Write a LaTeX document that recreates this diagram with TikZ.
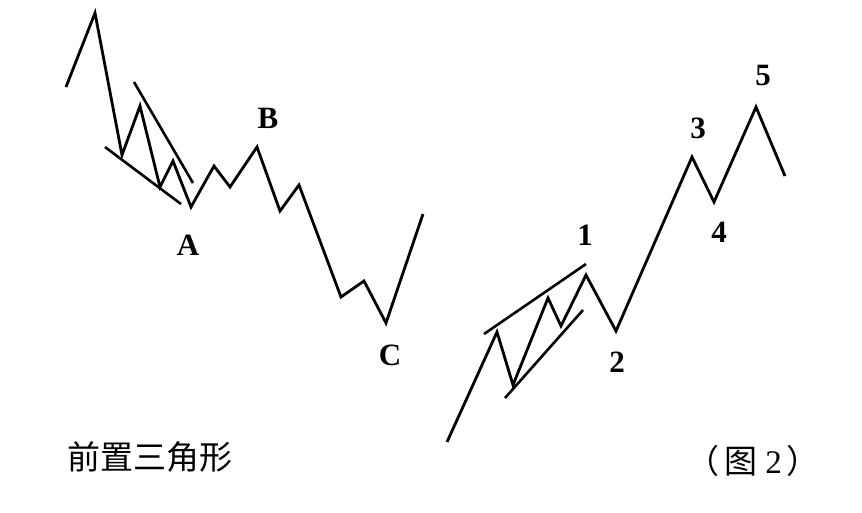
\documentclass[tikz,border=0pt]{standalone}
\usepackage{fontspec}
\setmainfont{Liberation Serif}
\newfontfamily\cjk{Noto Sans CJK SC}
\tikzset{
    wave/.style={line width=2.8pt, line join=miter, line cap=butt},
    edge/.style={line width=2.6pt},
    ptlabel/.style={font=\bfseries\fontsize{31}{31}\selectfont, inner sep=0pt},
    caption/.style={font=\cjk\fontsize{33}{33}\selectfont, inner sep=0pt}
}
\begin{document}
\begin{tikzpicture}[x=1pt,y=-1pt]
    \useasboundingbox (0,0) rectangle (862,512);
    % left: triangle leading into A-B-C
    \draw[wave] (66,87)--(95,13)--(122,155)--(140,106)--(160,187)--(173,161)
        --(191,207)--(214,166)--(230,187)--(257,147)--(280,211)--(299,185)
        --(341,297)--(364,281)--(386,323)--(423,214);
    \draw[edge] (134,82)--(193,183);
    \draw[edge] (105,147)--(181,204);
    \node[ptlabel] (lblA) at (188,245) {A};
    \node[ptlabel] (lblB) at (268,118) {B};
    \node[ptlabel] (lblC) at (390,355) {C};
    % right: triangle in wave 1, then 2-3-4-5
    \draw[wave] (447,442)--(497,332)--(513,385)--(548,298)--(561,326)--(586,275)
        --(616,331)--(692,157)--(714,202)--(756,107)--(785,176);
    \draw[edge] (484,334)--(586,264);
    \draw[edge] (505,398)--(583,310);
    \foreach \n/\x/\y in {1/585/235, 2/617/362, 3/698/128, 4/719/232, 5/763/75}
    {
        \node[ptlabel] (lbl\n) at (\x,\y) {\n};
    }
    \node[caption] (title) at (150,457) {前置三角形};
    \node[caption] (fig) at (753,461) {（\hspace{5pt}图\hspace{8pt}{\rmfamily 2}\hspace{5pt}）};
\end{tikzpicture}
\end{document}
